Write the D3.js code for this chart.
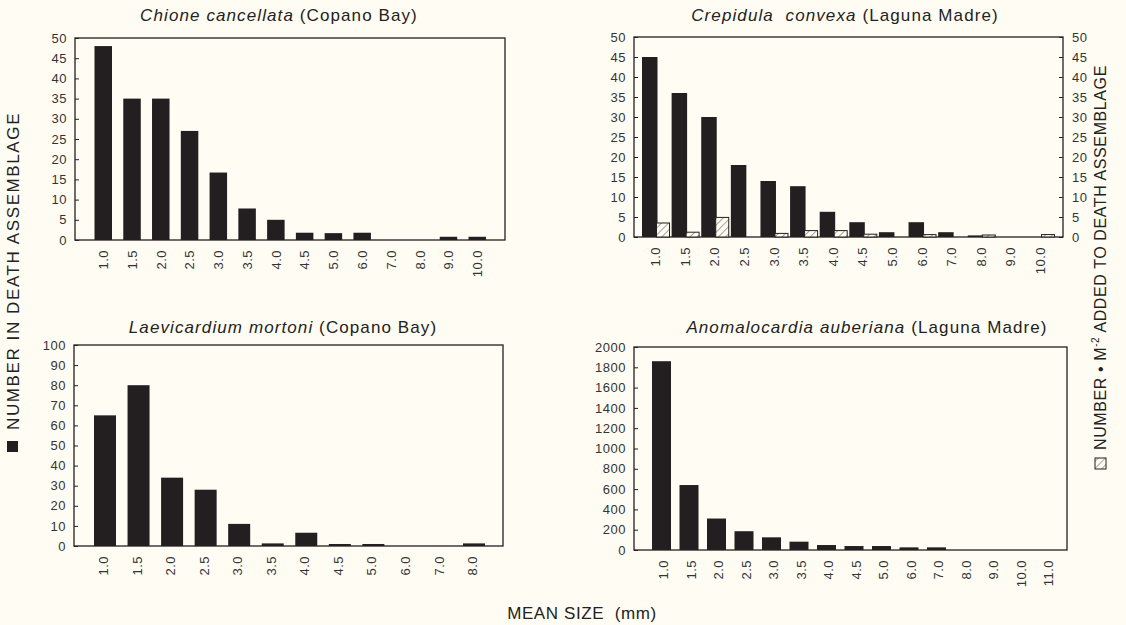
<!DOCTYPE html>
<html>
<head>
<meta charset="utf-8">
<script src="https://cdn.jsdelivr.net/npm/d3@7"></script>
<style>
  html, body { margin: 0; padding: 0; background: #fffdf3; }
  svg { display: block; }
  text { font-family: "Liberation Sans", Arial, Helvetica, sans-serif; white-space: pre; }
</style>
</head>
<body>
<svg id="chart" width="1126" height="625"></svg>
<script>
// ---------- DATA ----------
const sizesChione = ["1.0","1.5","2.0","2.5","3.0","3.5","4.0","4.5","5.0","6.0","7.0","8.0","9.0","10.0"];
const chioneDeath = [48, 35, 35, 27, 16.7, 7.8, 5, 1.8, 1.7, 1.8, 0, 0, 0.8, 0.8];

const sizesCrepidula = ["1.0","1.5","2.0","2.5","3.0","3.5","4.0","4.5","5.0","6.0","7.0","8.0","9.0","10.0"];
const crepidulaDeath = [45, 36, 30, 18, 14, 12.7, 6.3, 3.7, 1.2, 3.7, 1.2, 0.4, 0, 0];
const crepidulaAdded = [3.5, 1.2, 4.9, 0, 0.9, 1.6, 1.6, 0.7, 0, 0.6, 0, 0.5, 0, 0.6];

const sizesLaevicardium = ["1.0","1.5","2.0","2.5","3.0","3.5","4.0","4.5","5.0","6.0","7.0","8.0"];
const laevicardiumDeath = [65, 80, 34, 28, 11, 1.3, 6.6, 1, 1, 0, 0, 1.3];

const sizesAnomalocardia = ["1.0","1.5","2.0","2.5","3.0","3.5","4.0","4.5","5.0","6.0","7.0","8.0","9.0","10.0","11.0"];
const anomalocardiaDeath = [1860, 640, 310, 185, 125, 82, 49, 39, 39, 26, 26, 0, 0, 0, 0];

const titleSpecies = ["Chione cancellata", "Crepidula  convexa", "Laevicardium mortoni", "Anomalocardia auberiana"];
const titleSites = ["(Copano Bay)", "(Laguna Madre)", "(Copano Bay)", "(Laguna Madre)"];

// ---------- DRAWING ----------
const svg = d3.select("#chart");
const INK = "#231f20";
const TXT = "#333";

const defs = svg.append("defs");
const pat = defs.append("pattern")
  .attr("id", "hatch").attr("patternUnits", "userSpaceOnUse")
  .attr("width", 5).attr("height", 5)
  .attr("patternTransform", "rotate(45)");
pat.append("rect").attr("width", 5).attr("height", 5).attr("fill", "#fffdf3");
pat.append("line").attr("x1", 0).attr("y1", 0).attr("x2", 0).attr("y2", 5)
  .attr("stroke", "#333").attr("stroke-width", 0.9);

function panel(cfg) {
  const g = svg.append("g");
  const y = d3.scaleLinear().domain([0, cfg.yMax]).range([cfg.bottom, cfg.top]);
  const x = d3.scalePoint().domain(cfg.cats).range(cfg.centers);

  g.append("rect")
    .attr("x", cfg.left).attr("y", cfg.top)
    .attr("width", cfg.right - cfg.left).attr("height", cfg.bottom - cfg.top)
    .attr("fill", "none").attr("stroke", INK).attr("stroke-width", 1.3);

  cfg.series.forEach(s => {
    g.append("g").selectAll("rect")
      .data(cfg.cats.map((c, i) => ({c, v: s.values[i]})).filter(d => d.v > 0))
      .join("rect")
      .attr("x", d => x(d.c) + s.offset)
      .attr("width", s.width)
      .attr("y", d => y(d.v))
      .attr("height", d => cfg.bottom - y(d.v))
      .attr("fill", s.fill)
      .attr("stroke", s.stroke || "none")
      .attr("stroke-width", s.stroke ? 1 : 0);
  });

  const ticks = d3.range(0, cfg.yMax + cfg.yStep / 2, cfg.yStep);
  const ya = g.append("g").attr("transform", `translate(${cfg.left},0)`)
    .call(d3.axisLeft(y).tickValues(ticks).tickSize(-4).tickPadding(8).tickFormat(d3.format("d")));
  ya.select(".domain").remove();
  ya.selectAll("line").attr("stroke", INK);
  ya.selectAll("text").attr("fill", TXT).style("font-size", "13px").style("letter-spacing", "0.5px");

  if (cfg.rightAxis) {
    const ra = g.append("g").attr("transform", `translate(${cfg.right},0)`)
      .call(d3.axisRight(y).tickValues(ticks).tickSize(-4).tickPadding(9).tickFormat(d3.format("d")));
    ra.select(".domain").remove();
    ra.selectAll("line").attr("stroke", INK);
    ra.selectAll("text").attr("fill", TXT).style("font-size", "13px").style("letter-spacing", "0.5px");
  }

  const xa = g.append("g").attr("transform", `translate(0,${cfg.bottom})`)
    .call(d3.axisBottom(x).tickSize(0));
  xa.select(".domain").remove();
  xa.selectAll("text")
    .attr("transform", "rotate(-90)")
    .attr("x", -10).attr("y", 0).attr("dy", "0.35em")
    .style("text-anchor", "end")
    .style("font-size", "13px")
    .style("letter-spacing", "0.5px")
    .attr("fill", TXT);

  const t = g.append("text")
    .attr("x", cfg.titleX).attr("y", cfg.titleY)
    .attr("text-anchor", "middle")
    .style("font-size", "17px").style("letter-spacing", "1.1px").attr("fill", "#222");
  t.append("tspan").style("font-style", "italic").text(cfg.species);
  t.append("tspan").text(" " + cfg.site);
}

panel({
  left: 75, right: 505, top: 38, bottom: 240,
  yMax: 50, yStep: 5, cats: sizesChione, centers: [103, 477],
  series: [{values: chioneDeath, offset: -8.5, width: 17.5, fill: INK}],
  titleX: 279, titleY: 21, species: titleSpecies[0], site: titleSites[0]
});

panel({
  left: 634, right: 1063, top: 37, bottom: 237,
  yMax: 50, yStep: 5, cats: sizesCrepidula, centers: [655, 1040],
  series: [
    {values: crepidulaDeath, offset: -13, width: 15.5, fill: INK},
    {values: crepidulaAdded, offset: 1.5, width: 13, fill: "url(#hatch)", stroke: INK}
  ],
  rightAxis: true,
  titleX: 845, titleY: 21, species: titleSpecies[1], site: titleSites[1]
});

panel({
  left: 74, right: 503, top: 345, bottom: 546,
  yMax: 100, yStep: 10, cats: sizesLaevicardium, centers: [103, 472],
  series: [{values: laevicardiumDeath, offset: -9, width: 22, fill: INK}],
  titleX: 283, titleY: 333, species: titleSpecies[2], site: titleSites[2]
});

panel({
  left: 634, right: 1067, top: 347, bottom: 550,
  yMax: 2000, yStep: 200, cats: sizesAnomalocardia, centers: [663, 1048],
  series: [{values: anomalocardiaDeath, offset: -11, width: 19, fill: INK}],
  titleX: 867, titleY: 333, species: titleSpecies[3], site: titleSites[3]
});

svg.append("text")
  .attr("x", 582).attr("y", 619)
  .attr("text-anchor", "middle")
  .style("font-size", "17px").style("letter-spacing", "0.6px").attr("fill", "#222")
  .text("MEAN SIZE  (mm)");

svg.append("rect").attr("x", 7).attr("y", 441).attr("width", 11).attr("height", 11).attr("fill", INK);
svg.append("text")
  .attr("transform", "translate(19,430) rotate(-90)")
  .attr("text-anchor", "start")
  .style("font-size", "17px").style("letter-spacing", "1.6px").attr("fill", "#222")
  .text("NUMBER IN DEATH ASSEMBLAGE");

svg.append("rect").attr("x", 1095).attr("y", 458).attr("width", 11).attr("height", 11)
  .attr("fill", "url(#hatch)").attr("stroke", INK).attr("stroke-width", 1);
const rt = svg.append("text")
  .attr("transform", "translate(1106,450) rotate(-90)")
  .attr("text-anchor", "start")
  .style("font-size", "16px").style("letter-spacing", "0.6px").attr("fill", "#222");
rt.append("tspan").text("NUMBER • M");
rt.append("tspan").attr("dy", -7).style("font-size", "10px").text("-2");
rt.append("tspan").attr("dy", 7).text(" ADDED TO DEATH ASSEMBLAGE");
</script>
</body>
</html>
